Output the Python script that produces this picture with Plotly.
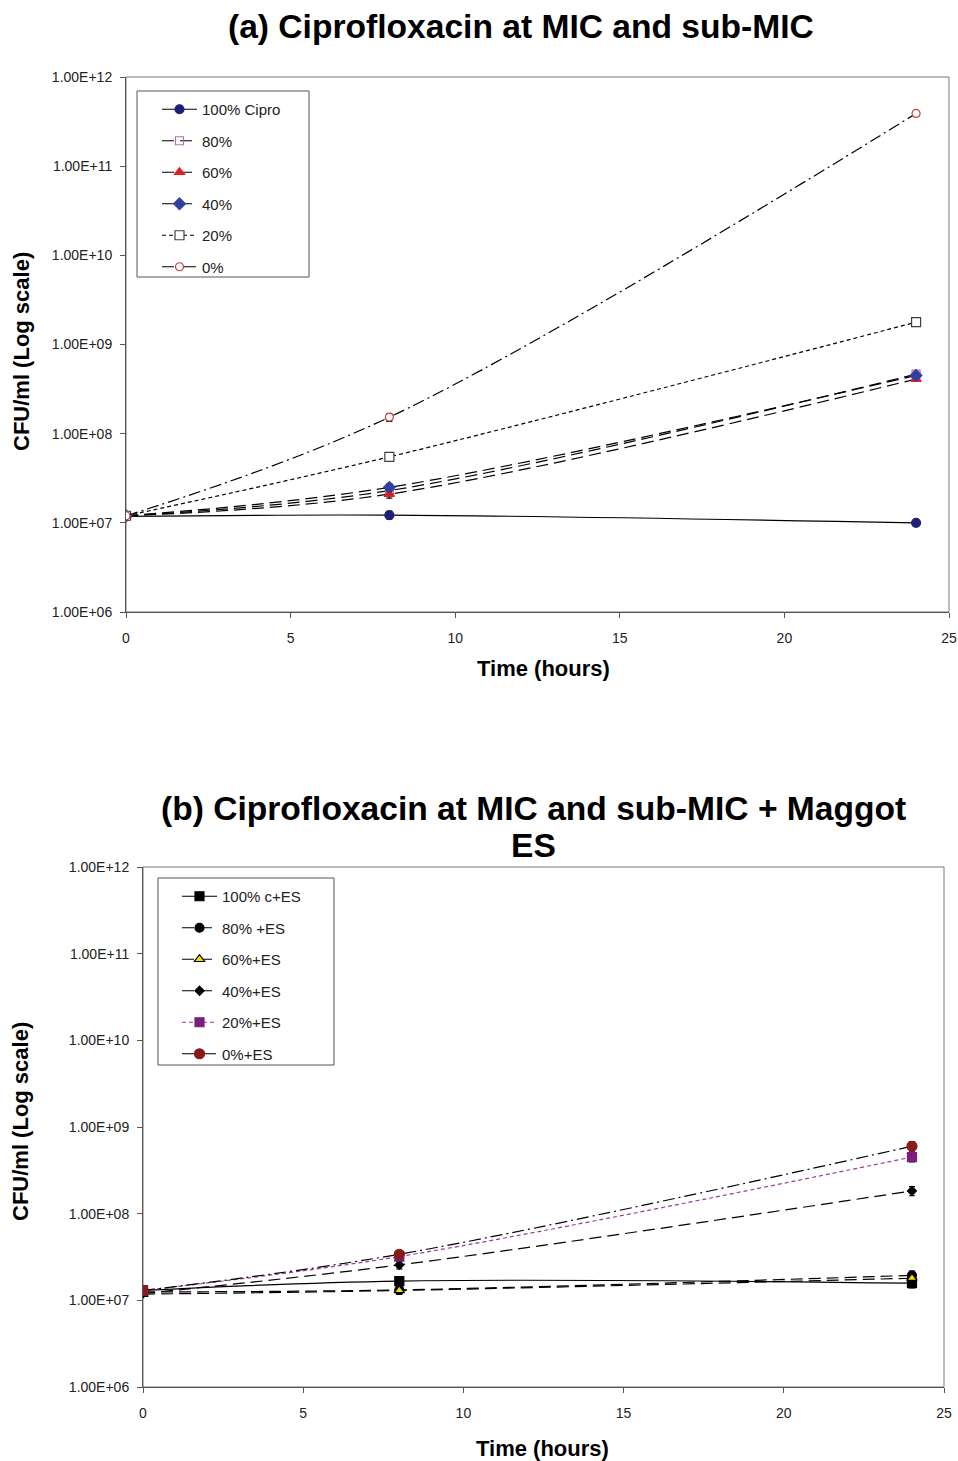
import plotly.graph_objects as go

time_h = [0, 8, 24]

# Panel (a)
a_names = ["100% Cipro", "80%", "60%", "40%", "20%", "0%"]
a_100 = [1.18e7, 1.22e7, 1.0e7]
a_80 = [1.2e7, 2.3e7, 4.65e8]
a_60 = [1.2e7, 2.1e7, 4.1e8]
a_40 = [1.2e7, 2.5e7, 4.5e8]
a_20 = [1.2e7, 5.5e7, 1.78e9]
a_0 = [1.2e7, 1.53e8, 3.9e11]
a_err = [0.06, 0.1, 0.05]  # relative error estimates

# Panel (b)
b_names = ["100% c+ES", "80% +ES", "60%+ES", "40%+ES", "20%+ES", "0%+ES"]
b_100 = [1.3e7, 1.67e7, 1.58e7]
b_80 = [1.25e7, 1.32e7, 1.94e7]
b_60 = [1.18e7, 1.3e7, 1.8e7]
b_40 = [1.2e7, 2.56e7, 1.83e8]
b_20 = [1.3e7, 3.2e7, 4.5e8]
b_0 = [1.3e7, 3.4e7, 6.0e8]
b_err = [0.06, 0.1, 0.12]

y_tickvals = [1e6, 1e7, 1e8, 1e9, 1e10, 1e11, 1e12]
y_ticktext = ["1.00E+06", "1.00E+07", "1.00E+08", "1.00E+09", "1.00E+10", "1.00E+11", "1.00E+12"]
x_tickvals = [0, 5, 10, 15, 20, 25]

OFF = 0  # body margin removed via post_script
W, H = 958, 1461
def px_x(p): return (p - OFF) / W
def px_y(p): return 1 - (p - OFF) / H

FONT = "Liberation Sans, Arial, sans-serif"

a_styles = [
    dict(dash="solid", color="black", symbol="circle", mcolor="#1f1f78", mline="#1f1f78", size=9),
    dict(dash="12px,6px", color="black", symbol="square-open", mcolor="#b070b0", mline="#b070b0", size=8),
    dict(dash="12px,6px", color="black", symbol="triangle-up", mcolor="#e02020", mline="#e02020", size=9),
    dict(dash="12px,6px", color="black", symbol="diamond", mcolor="#3040a0", mline="#3040a0", size=9),
    dict(dash="4px,3px", color="black", symbol="square", mcolor="white", mline="#404040", size=9),
    dict(dash="12px,4px,2px,4px", color="black", symbol="circle", mcolor="white", mline="#c04040", size=8),
]
a_series = [a_100, a_80, a_60, a_40, a_20, a_0]

b_styles = [
    dict(dash="solid", color="black", symbol="square", mcolor="black", mline="black", size=9),
    dict(dash="12px,6px", color="black", symbol="circle", mcolor="black", mline="black", size=9),
    dict(dash="12px,6px", color="black", symbol="triangle-up", mcolor="#f0e000", mline="black", size=9),
    dict(dash="12px,6px", color="black", symbol="diamond", mcolor="black", mline="black", size=7),
    dict(dash="4px,3px", color="#9a3a9a", symbol="square", mcolor="#7a1f7a", mline="#7a1f7a", size=9),
    dict(dash="12px,4px,2px,4px", color="black", symbol="circle", mcolor="#8b1a1a", mline="#8b1a1a", size=10),
]
b_series = [b_100, b_80, b_60, b_40, b_20, b_0]

fig = go.Figure()

def add(series, names, styles, errs, xa, ya, legend, grp):
    for i, (vals, name, st) in enumerate(zip(series, names, styles)):
        fig.add_trace(go.Scatter(
            x=time_h, y=vals, name=name, mode="lines+markers",
            xaxis=xa, yaxis=ya, legend=legend, legendgroup=f"{grp}{i}",
            line=dict(color=st["color"], width=1.2, dash=st["dash"], shape="spline"),
            marker=dict(symbol=st["symbol"], size=st["size"], color=st["mcolor"],
                        line=dict(color=st["mline"], width=1.2)),
            error_y=dict(type="data", array=[v * e for v, e in zip(vals, errs)],
                         color="black", thickness=1.2, width=3),
        ))

add(a_series, a_names, a_styles, a_err, "x", "y", "legend", "a")
add(b_series, b_names, b_styles, b_err, "x2", "y2", "legend2", "b")

axis_common = dict(showline=True, linecolor="#555555", linewidth=1, ticks="outside",
                   ticklen=5, tickcolor="#555555", showgrid=False, zeroline=False,
                   automargin=False, ticklabeloverflow="allow",
                   tickfont=dict(family=FONT, size=14, color="#222222"))

legend_common = dict(xanchor="left", yanchor="top", bgcolor="rgba(0,0,0,0)",
                     borderwidth=0, font=dict(family=FONT, size=15, color="#222222"),
                     itemwidth=35, traceorder="grouped", tracegroupgap=9)

fig.update_layout(
    template="none",
    width=W, height=H, margin=dict(l=0, r=0, t=0, b=0, pad=0, autoexpand=False),
    paper_bgcolor="white", plot_bgcolor="white",
    font=dict(family=FONT, color="black"),
    xaxis=dict(domain=[px_x(126), px_x(949)], anchor="y", range=[0, 25],
               tickvals=x_tickvals, ticklabelstandoff=8, **axis_common),
    yaxis=dict(domain=[px_y(612), px_y(77)], anchor="x", type="log", range=[6, 12],
               tickvals=y_tickvals, ticktext=y_ticktext, ticklabelstandoff=5, **axis_common),
    xaxis2=dict(domain=[px_x(143), px_x(944)], anchor="y2", range=[0, 25],
                tickvals=x_tickvals, ticklabelstandoff=8, **axis_common),
    yaxis2=dict(domain=[px_y(1387), px_y(867)], anchor="x2", type="log", range=[6, 12],
                tickvals=y_tickvals, ticktext=y_ticktext, ticklabelstandoff=5, **axis_common),
    legend=dict(x=px_x(157), y=px_y(93), **legend_common),
    legend2=dict(x=px_x(177), y=px_y(880), **legend_common),
    shapes=[
        dict(type="rect", xref="x domain", yref="y domain", x0=0, x1=1, y0=0, y1=1,
             line=dict(color="#777777", width=1), layer="below"),
        dict(type="rect", xref="x2 domain", yref="y2 domain", x0=0, x1=1, y0=0, y1=1,
             line=dict(color="#777777", width=1), layer="below"),
        dict(type="rect", xref="paper", yref="paper", x0=px_x(137), x1=px_x(309),
             y0=px_y(277), y1=px_y(91), line=dict(color="#555555", width=1), layer="below"),
        dict(type="rect", xref="paper", yref="paper", x0=px_x(158), x1=px_x(334),
             y0=px_y(1065), y1=px_y(878), line=dict(color="#555555", width=1), layer="below"),
    ],
    annotations=[
        dict(text="<b>(a) Ciprofloxacin at MIC and sub-MIC</b>", x=px_x(521), y=px_y(27),
             xanchor="center", yanchor="middle",
             xref="paper", yref="paper", showarrow=False, font=dict(size=33.6, family=FONT)),
        dict(text="<b>(b) Ciprofloxacin at MIC and sub-MIC + Maggot</b>", x=px_x(533), y=px_y(808),
             xanchor="center", yanchor="middle",
             xref="paper", yref="paper", showarrow=False, font=dict(size=33.6, family=FONT)),
        dict(text="<b>ES</b>", x=px_x(533), y=px_y(845),
             xanchor="center", yanchor="middle",
             xref="paper", yref="paper", showarrow=False, font=dict(size=33.6, family=FONT)),
        dict(text="<b>CFU/ml (Log scale)</b>", x=px_x(22), y=px_y(352), textangle=-90,
             xanchor="center", yanchor="middle",
             xref="paper", yref="paper", showarrow=False, font=dict(size=22, family=FONT)),
        dict(text="<b>CFU/ml (Log scale)</b>", x=px_x(20), y=px_y(1122), textangle=-90,
             xanchor="center", yanchor="middle",
             xref="paper", yref="paper", showarrow=False, font=dict(size=22, family=FONT)),
        dict(text="<b>Time (hours)</b>", x=px_x(543), y=px_y(668),
             xanchor="center", yanchor="middle",
             xref="paper", yref="paper", showarrow=False, font=dict(size=22, family=FONT)),
        dict(text="<b>Time (hours)</b>", x=px_x(542), y=px_y(1448),
             xanchor="center", yanchor="middle",
             xref="paper", yref="paper", showarrow=False, font=dict(size=22, family=FONT)),
    ],
)

fig.write_html(
    "out.html",
    config={"displayModeBar": False},
    post_script="document.body.style.margin='0';document.documentElement.style.overflow='hidden';document.body.style.overflow='hidden';",
)
